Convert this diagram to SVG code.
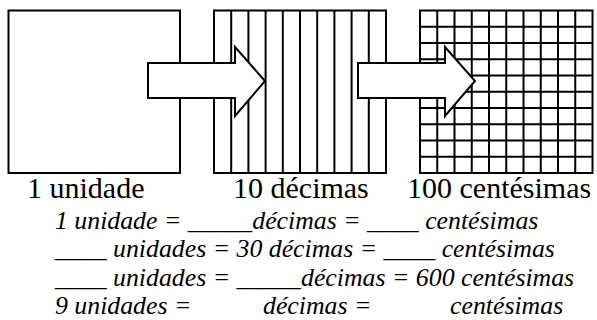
<svg xmlns="http://www.w3.org/2000/svg" width="597" height="320" viewBox="0 0 597 320">
<style>
.bx{fill:#fff;stroke:#000;stroke-width:2}
.ln{fill:none;stroke:#000;stroke-width:2}
.ar{fill:#fff;stroke:#000;stroke-width:2;stroke-linejoin:miter}
.hd{font-family:'Liberation Serif','Times New Roman',serif;font-size:30px;fill:#000}
.it{font-family:'Liberation Serif','Times New Roman',serif;font-size:25.8px;font-style:italic;fill:#000}
</style>
<g id="unidade">
<rect class="bx" x="8.5" y="10.5" width="171.5" height="162.5"/>
</g>
<g id="decimas">
<rect class="bx" x="214" y="10.5" width="172" height="162.5"/>
<path class="ln" d="M231.2 10.5V173M248.4 10.5V173M265.6 10.5V173M282.8 10.5V173M300 10.5V173M317.2 10.5V173M334.4 10.5V173M351.6 10.5V173M368.8 10.5V173"/>
</g>
<g id="centesimas">
<rect class="bx" x="420" y="10.5" width="172.5" height="162.5"/>
<path class="ln" d="M437.25 10.5V173M454.5 10.5V173M471.75 10.5V173M489 10.5V173M506.25 10.5V173M523.5 10.5V173M540.75 10.5V173M558 10.5V173M575.25 10.5V173"/>
<path class="ln" d="M420 26.75H592.5M420 43H592.5M420 59.25H592.5M420 75.5H592.5M420 91.75H592.5M420 108H592.5M420 124.25H592.5M420 140.5H592.5M420 156.75H592.5"/>
</g>
<g id="connectors">
<polygon class="ar" points="148,63 235,63 235,47 265,81 235,116 235,98 148,98"/>
<polygon class="ar" points="358,63 445,63 445,47 475,81 445,116 445,98 358,98"/>
</g>
<g id="labels">
<text class="hd" x="27" y="198">1 unidade</text>
<text class="hd" x="233" y="198">10 décimas</text>
<text class="hd" x="407" y="198">100 centésimas</text>
</g>
<g id="exercises">
<text class="it" x="55" y="229">1 unidade = _____décimas = ____ centésimas</text>
<text class="it" x="55" y="257">____ unidades = 30 décimas = ____ centésimas</text>
<text class="it" x="55" y="286">____ unidades = _____décimas = 600 centésimas</text>
<text class="it" y="314"><tspan x="55">9 unidades =</tspan><tspan x="263">décimas =</tspan><tspan x="450">centésimas</tspan></text>
</g>
</svg>
